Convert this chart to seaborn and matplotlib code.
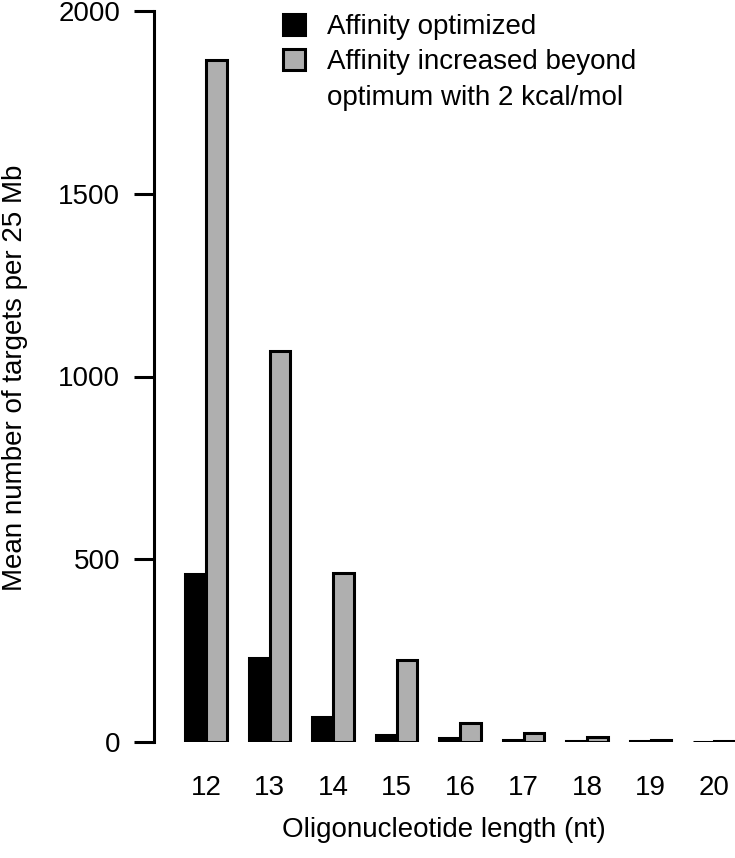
import matplotlib
matplotlib.use("Agg")
import matplotlib.pyplot as plt
from matplotlib.patches import Patch
import pandas as pd
import seaborn as sns

# dataset
lengths = ["12", "13", "14", "15", "16", "17", "18", "19", "20"]
affinity_optimized = [460, 230, 68, 20, 10, 6, 4, 2, 1]
affinity_increased = [1865, 1070, 462, 224, 52, 25, 13, 5, 1.5]
series_names = ["Affinity optimized",
                "Affinity increased beyond optimum with 2 kcal/mol"]
y_ticks = [0, 500, 1000, 1500, 2000]

df = pd.DataFrame({
    "length": lengths * 2,
    "targets": affinity_optimized + affinity_increased,
    "series": [series_names[0]] * len(lengths) + [series_names[1]] * len(lengths),
})

sns.set_style("white")
plt.rcParams["font.family"] = ["Liberation Sans", "DejaVu Sans"]
plt.rcParams["text.color"] = "black"
plt.rcParams["xtick.color"] = "black"
plt.rcParams["ytick.color"] = "black"

W, H = 735, 858
fig = plt.figure(figsize=(W / 100, H / 100), dpi=100, facecolor="white")
ax = fig.add_axes([154 / W, (H - 742) / H, (W - 154) / W, 731 / H])

colors = ["#000000", "#afafaf"]
sns.barplot(data=df, x="length", y="targets", hue="series", order=lengths,
            hue_order=series_names, palette=colors, saturation=1,
            width=0.65, edgecolor="black", linewidth=2.2, errorbar=None,
            legend=False, ax=ax)

ax.set_xlim(-0.82, 8.33)
ax.set_ylim(0, 2000)
ax.set_yticks(y_ticks)
ax.set_xlabel("")
ax.set_ylabel("")

ax.tick_params(axis="y", length=14.4, width=2.2, pad=10, labelsize=20,
               direction="out", left=True, color="black", labelcolor="black")
ax.tick_params(axis="x", length=0, pad=24, labelsize=20, labelcolor="black")

for side in ["top", "right", "bottom"]:
    ax.spines[side].set_visible(False)
ax.spines["left"].set_linewidth(2.2)
ax.spines["left"].set_color("black")

# axis titles
fig.text(15 / W, 1 - 378 / H, "Mean number of targets per 25 Mb",
         rotation=90, ha="center", va="center", fontsize=20, color="black")
fig.text(444 / W, 1 - 830 / H, "Oligonucleotide length (nt)",
         ha="center", va="center", fontsize=20, color="black")

# legend (second label wraps onto a line without a handle)
handles = [Patch(facecolor=colors[0], edgecolor="black", linewidth=2.2),
           Patch(facecolor=colors[1], edgecolor="black", linewidth=2.2),
           Patch(facecolor="none", edgecolor="none")]
labels = ["Affinity optimized", "Affinity increased beyond",
          "optimum with 2 kcal/mol"]
fig.legend(handles, labels, loc="upper left",
           bbox_to_anchor=(283 / W, 1 - 14 / H), frameon=False, fontsize=20,
           handlelength=0.8, handleheight=0.8, handletextpad=0.8,
           labelspacing=0.32, borderpad=0, borderaxespad=0,
           labelcolor="black")

fig.savefig("out.png", dpi=100, facecolor="white")
